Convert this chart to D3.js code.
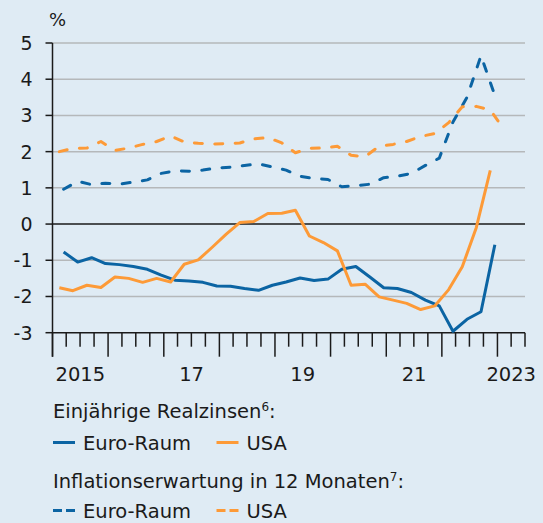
<!DOCTYPE html>
<html>
<head>
<meta charset="utf-8">
<script src="https://cdn.jsdelivr.net/npm/d3@7"></script>
<style>
  body { margin: 0; background: #dfebf4; }
  svg { display: block; font-family: "DejaVu Sans", sans-serif; }
</style>
</head>
<body>
<div id="chart"></div>
<script>
// quarters 2015 Q1 .. 2023 Q1
const quarters = [
  "2015-Q1","2015-Q2","2015-Q3","2015-Q4","2016-Q1","2016-Q2","2016-Q3","2016-Q4",
  "2017-Q1","2017-Q2","2017-Q3","2017-Q4","2018-Q1","2018-Q2","2018-Q3","2018-Q4",
  "2019-Q1","2019-Q2","2019-Q3","2019-Q4","2020-Q1","2020-Q2","2020-Q3","2020-Q4",
  "2021-Q1","2021-Q2","2021-Q3","2021-Q4","2022-Q1","2022-Q2","2022-Q3","2022-Q4",
  "2023-Q1"
];

// Einjährige Realzinsen, %
const euroReal = [-0.77,-1.05,-0.93,-1.09,-1.12,-1.17,-1.25,-1.41,-1.55,-1.57,-1.61,-1.71,
  -1.72,-1.78,-1.83,-1.69,-1.60,-1.49,-1.56,-1.52,-1.25,-1.17,-1.46,-1.76,
  -1.78,-1.89,-2.10,-2.26,-2.96,-2.63,-2.42,-0.57];
const usaReal = [-1.76,-1.84,-1.69,-1.75,-1.46,-1.50,-1.61,-1.50,-1.60,-1.11,-0.99,-0.64,
  -0.28,0.04,0.07,0.29,0.30,0.38,-0.33,-0.51,-0.74,-1.69,-1.66,-2.01,
  -2.10,-2.19,-2.36,-2.26,-1.81,-1.18,-0.10,1.48];

// Inflationserwartung in 12 Monaten, %
const euroInfl = [0.96,1.18,1.09,1.13,1.10,1.16,1.22,1.40,1.47,1.46,1.49,1.55,
  1.57,1.62,1.66,1.58,1.49,1.32,1.26,1.23,1.03,1.06,1.10,1.28,
  1.32,1.40,1.62,1.82,2.82,3.50,4.65,3.55];
const usaInfl = [2.00,2.09,2.10,2.28,2.03,2.10,2.20,2.28,2.43,2.27,2.23,2.21,
  2.22,2.24,2.35,2.39,2.24,1.97,2.09,2.10,2.15,1.90,1.86,2.15,
  2.20,2.28,2.42,2.50,2.80,3.24,3.25,3.15,2.60];

// observation month within the quarter (1..3)
const obsMonth = { euro: 3, usa: 2 };

const yTicks = [5, 4, 3, 2, 1, 0, -1, -2, -3];
const yearLabels = [[2015, "2015"], [2017, "17"], [2019, "19"], [2021, "21"], [2023, "2023"]];

const blue = "#0b64a3", orange = "#fd9a37";

const W = 543, H = 523;
const svg = d3.select("#chart").append("svg").attr("width", W).attr("height", H);
svg.append("rect").attr("width", W).attr("height", H).attr("fill", "#dfebf4");

const x0 = new Date(2015, 0, 1), x1 = new Date(2023, 6, 1);
const x = d3.scaleTime().domain([x0, x1]).range([52.5, 525]);
const y = d3.scaleLinear().domain([-3, 5]).range([332.7, 43]);

function toDate(q, m) {
  const yr = +q.slice(0, 4), qq = +q.slice(6);
  return new Date(yr, (qq - 1) * 3 + m - 1, 15);
}
function series(values, m) {
  return values.map((v, i) => ({ date: toDate(quarters[i], m), value: v }));
}

// gridlines
svg.append("g").selectAll("line")
  .data(yTicks.filter(d => d !== 0 && d !== -3))
  .join("line")
  .attr("x1", x(x0)).attr("x2", x(x1))
  .attr("y1", d => y(d)).attr("y2", d => y(d))
  .attr("stroke", "#b5b8ba").attr("stroke-width", 1.5);

svg.append("line")
  .attr("x1", x(x0)).attr("x2", x(x1))
  .attr("y1", y(0)).attr("y2", y(0))
  .attr("stroke", "#1a1a1a").attr("stroke-width", 1.5);

// y axis
const yAxis = svg.append("g");
yAxis.append("line")
  .attr("x1", 52.5).attr("x2", 52.5).attr("y1", y(5)).attr("y2", y(-3) + 24)
  .attr("stroke", "#1a1a1a").attr("stroke-width", 1.5);
yAxis.selectAll(".tk").data(yTicks).join("line")
  .attr("x1", 45.5).attr("x2", 52.5)
  .attr("y1", d => y(d)).attr("y2", d => y(d))
  .attr("stroke", "#1a1a1a").attr("stroke-width", 1.5);
yAxis.selectAll("text").data(yTicks).join("text")
  .attr("x", 32.5).attr("y", d => y(d))
  .attr("text-anchor", "end").attr("dominant-baseline", "central")
  .attr("font-size", 19).attr("fill", "#1a1a1a")
  .text(d => d < 0 ? "-" + Math.abs(d) : d);

svg.append("text").attr("x", 49).attr("y", 26)
  .attr("font-size", 18).attr("fill", "#1a1a1a").text("%");

// x axis
const xAxis = svg.append("g");
xAxis.append("line")
  .attr("x1", x(x0)).attr("x2", x(x1)).attr("y1", y(-3)).attr("y2", y(-3))
  .attr("stroke", "#1a1a1a").attr("stroke-width", 1.5);
const qTicks = d3.timeMonth.every(3).range(x0, d3.timeDay.offset(x1, 1));
xAxis.selectAll(".tk").data(qTicks).join("line")
  .attr("x1", d => x(d)).attr("x2", d => x(d))
  .attr("y1", y(-3))
  .attr("y2", d => y(-3) + (d.getMonth() === 0 ? 24 : 14))
  .attr("stroke", "#1a1a1a").attr("stroke-width", 1.5);
xAxis.selectAll("text").data(yearLabels).join("text")
  .attr("x", d => {
    const a = new Date(d[0], 0, 1), b = d3.min([new Date(d[0] + 1, 0, 1), x1]);
    return (x(a) + x(b)) / 2;
  })
  .attr("y", 380.5)
  .attr("text-anchor", "middle")
  .attr("font-size", 19.5).attr("fill", "#1a1a1a")
  .text(d => d[1]);

// lines
const line = d3.line().x(d => x(d.date)).y(d => y(d.value));
const dash = "8,12.4";

[[euroInfl, obsMonth.euro, blue, dash], [usaInfl, obsMonth.usa, orange, dash],
 [euroReal, obsMonth.euro, blue, null], [usaReal, obsMonth.usa, orange, null]]
  .forEach(([vals, m, col, da]) => {
    svg.append("path")
      .datum(series(vals, m))
      .attr("d", line)
      .attr("fill", "none")
      .attr("stroke", col)
      .attr("stroke-width", 3)
      .attr("stroke-linejoin", "round")
      .attr("stroke-linecap", da ? "round" : "butt")
      .attr("stroke-dasharray", da);
  });

// legend
const lg = svg.append("g").attr("font-size", 19.5).attr("fill", "#1a1a1a");

function heading(yy, label, sup) {
  const t = lg.append("text").attr("x", 53).attr("y", yy);
  t.append("tspan").text(label);
  t.append("tspan").attr("dy", -7).attr("font-size", 12).text(sup);
  t.append("tspan").attr("dy", 7).text(":");
}
function item(xx, yy, col, dashed, label) {
  lg.append("line")
    .attr("x1", xx).attr("x2", xx + 22).attr("y1", yy).attr("y2", yy)
    .attr("stroke", col).attr("stroke-width", 3)
    .attr("stroke-dasharray", dashed ? "9,4" : null);
  lg.append("text").attr("x", xx + 30).attr("y", yy + 7).text(label);
}

heading(418, "Einjährige Realzinsen", "6");
item(53, 442.5, blue, false, "Euro-Raum");
item(216.5, 442.5, orange, false, "USA");
heading(488, "Inflationserwartung in 12 Monaten", "7");
item(53, 510.5, blue, true, "Euro-Raum");
item(216.5, 510.5, orange, true, "USA");
</script>
</body>
</html>
